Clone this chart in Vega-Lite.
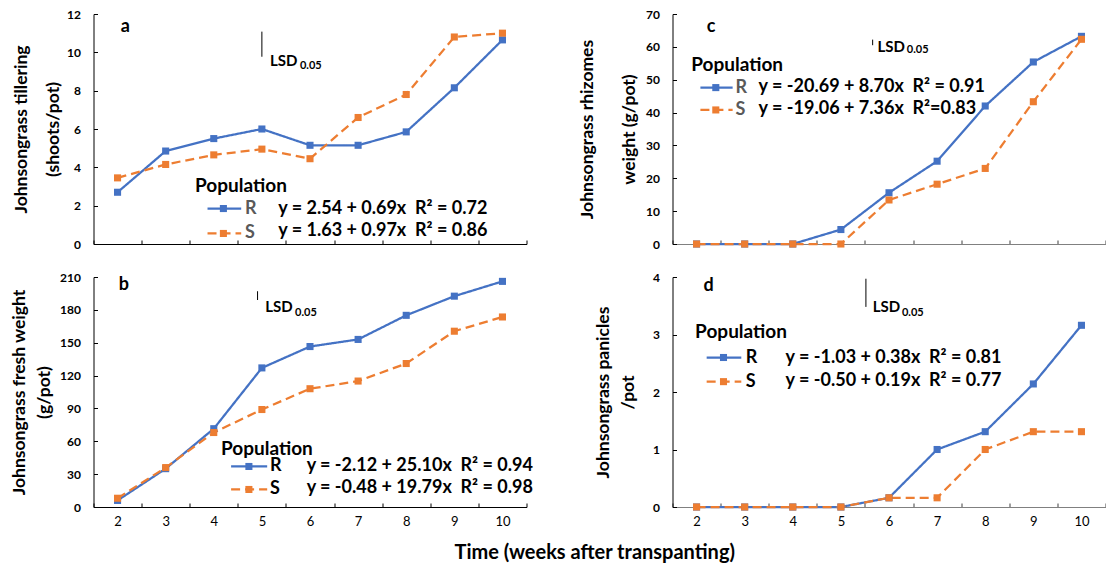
{
  "$schema": "https://vega.github.io/schema/vega-lite/v6.json",
  "background": "white",
  "padding": {"left": 10.5, "top": 8, "right": 2, "bottom": 5},
  "bounds": "flush",
  "columns": 2,
  "spacing": {"row": 33, "column": 146},
  "title": {"text": "Time (weeks after transpanting)", "orient": "bottom", "anchor": "start", "frame": "group", "dx": 361, "font": "Lato", "fontSize": 20, "fontWeight": "bold", "color": "#000", "offset": 15},
  "resolve": {"scale": {"x": "independent", "y": "independent"}},
  "datasets": {
    "a": [
      {"week": 2, "value": 2.7, "pop": "R"}, {"week": 3, "value": 4.85, "pop": "R"}, {"week": 4, "value": 5.5, "pop": "R"}, {"week": 5, "value": 6.0, "pop": "R"}, {"week": 6, "value": 5.15, "pop": "R"}, {"week": 7, "value": 5.15, "pop": "R"}, {"week": 8, "value": 5.85, "pop": "R"}, {"week": 9, "value": 8.15, "pop": "R"}, {"week": 10, "value": 10.65, "pop": "R"},
      {"week": 2, "value": 3.45, "pop": "S"}, {"week": 3, "value": 4.15, "pop": "S"}, {"week": 4, "value": 4.65, "pop": "S"}, {"week": 5, "value": 4.95, "pop": "S"}, {"week": 6, "value": 4.45, "pop": "S"}, {"week": 7, "value": 6.6, "pop": "S"}, {"week": 8, "value": 7.8, "pop": "S"}, {"week": 9, "value": 10.8, "pop": "S"}, {"week": 10, "value": 11.0, "pop": "S"}
    ],
    "b": [
      {"week": 2, "value": 6, "pop": "R"}, {"week": 3, "value": 35, "pop": "R"}, {"week": 4, "value": 71.5, "pop": "R"}, {"week": 5, "value": 127, "pop": "R"}, {"week": 6, "value": 146.5, "pop": "R"}, {"week": 7, "value": 153, "pop": "R"}, {"week": 8, "value": 175, "pop": "R"}, {"week": 9, "value": 192.5, "pop": "R"}, {"week": 10, "value": 206, "pop": "R"},
      {"week": 2, "value": 8, "pop": "S"}, {"week": 3, "value": 36, "pop": "S"}, {"week": 4, "value": 68, "pop": "S"}, {"week": 5, "value": 89, "pop": "S"}, {"week": 6, "value": 108, "pop": "S"}, {"week": 7, "value": 115, "pop": "S"}, {"week": 8, "value": 131, "pop": "S"}, {"week": 9, "value": 160.5, "pop": "S"}, {"week": 10, "value": 173.5, "pop": "S"}
    ],
    "c": [
      {"week": 2, "value": 0, "pop": "R"}, {"week": 3, "value": 0, "pop": "R"}, {"week": 4, "value": 0, "pop": "R"}, {"week": 5, "value": 4.4, "pop": "R"}, {"week": 6, "value": 15.6, "pop": "R"}, {"week": 7, "value": 25.2, "pop": "R"}, {"week": 8, "value": 42, "pop": "R"}, {"week": 9, "value": 55.4, "pop": "R"}, {"week": 10, "value": 63.2, "pop": "R"},
      {"week": 2, "value": 0, "pop": "S"}, {"week": 3, "value": 0, "pop": "S"}, {"week": 4, "value": 0, "pop": "S"}, {"week": 5, "value": 0, "pop": "S"}, {"week": 6, "value": 13.4, "pop": "S"}, {"week": 7, "value": 18.2, "pop": "S"}, {"week": 8, "value": 23, "pop": "S"}, {"week": 9, "value": 43.3, "pop": "S"}, {"week": 10, "value": 62.3, "pop": "S"}
    ],
    "d": [
      {"week": 2, "value": 0, "pop": "R"}, {"week": 3, "value": 0, "pop": "R"}, {"week": 4, "value": 0, "pop": "R"}, {"week": 5, "value": 0, "pop": "R"}, {"week": 6, "value": 0.16, "pop": "R"}, {"week": 7, "value": 1.0, "pop": "R"}, {"week": 8, "value": 1.31, "pop": "R"}, {"week": 9, "value": 2.14, "pop": "R"}, {"week": 10, "value": 3.16, "pop": "R"},
      {"week": 2, "value": 0, "pop": "S"}, {"week": 3, "value": 0, "pop": "S"}, {"week": 4, "value": 0, "pop": "S"}, {"week": 5, "value": 0, "pop": "S"}, {"week": 6, "value": 0.16, "pop": "S"}, {"week": 7, "value": 0.16, "pop": "S"}, {"week": 8, "value": 1.0, "pop": "S"}, {"week": 9, "value": 1.31, "pop": "S"}, {"week": 10, "value": 1.31, "pop": "S"}
    ],
    "a_leg": [
      {"pop": "R", "x1": 3.87, "x2": 4.57, "xm": 4.2, "xl": 4.65, "y": 1.85},
      {"pop": "S", "x1": 3.87, "x2": 4.57, "xm": 4.2, "xl": 4.65, "y": 0.55}
    ],
    "b_leg": [
      {"pop": "R", "x1": 4.36, "x2": 5.11, "xm": 4.73, "xl": 5.17, "y": 37},
      {"pop": "S", "x1": 4.36, "x2": 5.11, "xm": 4.73, "xl": 5.17, "y": 16}
    ],
    "c_leg": [
      {"pop": "R", "x1": 2.08, "x2": 2.75, "xm": 2.4, "xl": 2.81, "y": 47.6},
      {"pop": "S", "x1": 2.08, "x2": 2.75, "xm": 2.4, "xl": 2.81, "y": 40.8}
    ],
    "d_leg": [
      {"pop": "R", "x1": 2.21, "x2": 2.93, "xm": 2.56, "xl": 3.02, "y": 2.6},
      {"pop": "S", "x1": 2.21, "x2": 2.93, "xm": 2.56, "xl": 3.02, "y": 2.18}
    ],
    "a_txt": [
      {"kind": "letter", "x": 2.16, "y": 11.34, "text": "a"},
      {"kind": "lsd", "x": 5.17, "y": 9.55, "text": "LSD"},
      {"kind": "sub", "x": 5.79, "y": 9.3, "text": "0.05"},
      {"kind": "pop", "x": 3.61, "y": 3.03, "text": "Population"},
      {"kind": "eq", "x": 5.34, "y": 1.85, "text": "y = 2.54 + 0.69x \u00a0R² = 0.72"},
      {"kind": "eq", "x": 5.34, "y": 0.7, "text": "y = 1.63 + 0.97x \u00a0R² = 0.86"}
    ],
    "b_txt": [
      {"kind": "letter", "x": 2.13, "y": 202.7, "text": "b"},
      {"kind": "lsd", "x": 5.07, "y": 182.3, "text": "LSD"},
      {"kind": "sub", "x": 5.69, "y": 177.4, "text": "0.05"},
      {"kind": "pop", "x": 4.15, "y": 53, "text": "Population"},
      {"kind": "eq", "x": 5.93, "y": 37, "text": "y = -2.12 + 25.10x \u00a0R² = 0.94"},
      {"kind": "eq", "x": 5.93, "y": 17, "text": "y = -0.48 + 19.79x \u00a0R² = 0.98"}
    ],
    "c_txt": [
      {"kind": "letter", "x": 2.3, "y": 66.0, "text": "c"},
      {"kind": "lsd", "x": 5.76, "y": 60.1, "text": "LSD"},
      {"kind": "sub", "x": 6.37, "y": 59.1, "text": "0.05"},
      {"kind": "pop", "x": 1.89, "y": 54.5, "text": "Population"},
      {"kind": "eq", "x": 3.29, "y": 47.9, "text": "y = -20.69 + 8.70x \u00a0R² = 0.91"},
      {"kind": "eq", "x": 3.29, "y": 41.2, "text": "y = -19.06 + 7.36x \u00a0R²=0.83"}
    ],
    "d_txt": [
      {"kind": "letter", "x": 2.25, "y": 3.84, "text": "d"},
      {"kind": "lsd", "x": 5.66, "y": 3.47, "text": "LSD"},
      {"kind": "sub", "x": 6.27, "y": 3.37, "text": "0.05"},
      {"kind": "pop", "x": 1.97, "y": 3.05, "text": "Population"},
      {"kind": "eq", "x": 3.85, "y": 2.6, "text": "y = -1.03 + 0.38x \u00a0R² = 0.81"},
      {"kind": "eq", "x": 3.85, "y": 2.2, "text": "y = -0.50 + 0.19x \u00a0R² = 0.77"}
    ],
    "a_lsd": [{"x": 5.0, "y1": 11.08, "y2": 9.77}],
    "b_lsd": [{"x": 4.91, "y1": 197, "y2": 189}],
    "c_lsd": [{"x": 5.66, "y1": 62.2, "y2": 60.5}],
    "d_lsd": [{"x": 5.52, "y1": 3.97, "y2": 3.48}]
  },
  "config": {
    "view": {"stroke": null},
    "font": "Lato",
    "axis": {"grid": false, "labelFont": "Lato", "titleFont": "Lato", "labelColor": "#000", "titleColor": "#000", "domainColor": "#000", "tickColor": "#000", "tickSize": -4, "domainWidth": 1, "tickWidth": 1, "labelOverlap": false, "tickCount": 12},
    "axisX": {"labelFontSize": 13, "labelFontWeight": "normal", "labelPadding": 12},
    "axisY": {"labelFontSize": 12, "labelFontWeight": "bold", "labelPadding": 17, "titleFontSize": 17.5, "titleFontWeight": "bold", "format": "d"},
    "text": {"font": "Lato", "fontWeight": "bold", "color": "#000", "align": "left", "baseline": "middle"}
  },
  "concat": [
    {
      "width": 433, "height": 230,
      "layer": [
        {"data": {"name": "a"}, "mark": {"type": "line", "strokeWidth": 2.25},
         "encoding": {
           "x": {"field": "week", "type": "quantitative", "scale": {"domain": [1.5, 10.5], "nice": false, "zero": false},
                 "axis": {"values": [1.5, 2.5, 3.5, 4.5, 5.5, 6.5, 7.5, 8.5, 9.5, 10.5], "tickCount": 12, "labels": false, "title": null}},
           "y": {"field": "value", "type": "quantitative", "scale": {"domain": [0, 12], "nice": false},
                 "axis": {"values": [0, 2, 4, 6, 8, 10, 12], "tickCount": 12, "labelOverlap": false, "title": ["Johnsongrass tillering", "(shoots/pot)"], "titleLineHeight": 32, "titlePadding": 4}},
           "color": {"field": "pop", "type": "nominal", "scale": {"domain": ["R", "S"], "range": ["#4472C4", "#ED7D31"]}, "legend": null},
           "strokeDash": {"field": "pop", "type": "nominal", "scale": {"domain": ["R", "S"], "range": [[1, 0], [9, 5]]}, "legend": null}
         }},
        {"data": {"name": "a"}, "mark": {"type": "point", "shape": "square", "filled": true, "size": 50, "opacity": 1},
         "encoding": {"x": {"field": "week", "type": "quantitative"}, "y": {"field": "value", "type": "quantitative"}, "color": {"field": "pop", "type": "nominal", "legend": null}}},
        {"data": {"name": "a_leg"}, "mark": {"type": "rule", "strokeWidth": 2.25},
         "encoding": {"x": {"field": "x1", "type": "quantitative"}, "x2": {"field": "x2"}, "y": {"field": "y", "type": "quantitative"}, "color": {"field": "pop", "type": "nominal", "legend": null}, "strokeDash": {"field": "pop", "type": "nominal", "legend": null}}},
        {"data": {"name": "a_leg"}, "mark": {"type": "point", "shape": "square", "filled": true, "size": 50, "opacity": 1},
         "encoding": {"x": {"field": "xm", "type": "quantitative"}, "y": {"field": "y", "type": "quantitative"}, "color": {"field": "pop", "type": "nominal", "legend": null}}},
        {"data": {"name": "a_leg"}, "mark": {"type": "text", "fontSize": 18, "color": "#595959"},
         "encoding": {"x": {"field": "xl", "type": "quantitative"}, "y": {"field": "y", "type": "quantitative"}, "text": {"field": "pop"}}},
        {"data": {"name": "a_txt"}, "transform": [{"filter": "datum.kind == 'letter'"}], "mark": {"type": "text", "fontSize": 18, "align": "center"},
         "encoding": {"x": {"field": "x", "type": "quantitative"}, "y": {"field": "y", "type": "quantitative"}, "text": {"field": "text"}}},
        {"data": {"name": "a_txt"}, "transform": [{"filter": "datum.kind == 'lsd'"}], "mark": {"type": "text", "fontSize": 15},
         "encoding": {"x": {"field": "x", "type": "quantitative"}, "y": {"field": "y", "type": "quantitative"}, "text": {"field": "text"}}},
        {"data": {"name": "a_txt"}, "transform": [{"filter": "datum.kind == 'sub'"}], "mark": {"type": "text", "fontSize": 11},
         "encoding": {"x": {"field": "x", "type": "quantitative"}, "y": {"field": "y", "type": "quantitative"}, "text": {"field": "text"}}},
        {"data": {"name": "a_txt"}, "transform": [{"filter": "datum.kind == 'pop'"}], "mark": {"type": "text", "fontSize": 19},
         "encoding": {"x": {"field": "x", "type": "quantitative"}, "y": {"field": "y", "type": "quantitative"}, "text": {"field": "text"}}},
        {"data": {"name": "a_txt"}, "transform": [{"filter": "datum.kind == 'eq'"}], "mark": {"type": "text", "fontSize": 18},
         "encoding": {"x": {"field": "x", "type": "quantitative"}, "y": {"field": "y", "type": "quantitative"}, "text": {"field": "text"}}},
        {"data": {"name": "a_lsd"}, "mark": {"type": "rule", "color": "#000", "strokeWidth": 1},
         "encoding": {"x": {"field": "x", "type": "quantitative"}, "y": {"field": "y1", "type": "quantitative"}, "y2": {"field": "y2"}}}
      ]
    },
    {
      "width": 433, "height": 230,
      "layer": [
        {"data": {"name": "c"}, "mark": {"type": "line", "strokeWidth": 2.25},
         "encoding": {
           "x": {"field": "week", "type": "quantitative", "scale": {"domain": [1.5, 10.5], "nice": false, "zero": false},
                 "axis": {"values": [1.5, 2.5, 3.5, 4.5, 5.5, 6.5, 7.5, 8.5, 9.5, 10.5], "tickCount": 12, "labels": false, "title": null, "domainColor": "#808080", "tickColor": "#404040"}},
           "y": {"field": "value", "type": "quantitative", "scale": {"domain": [0, 70], "nice": false},
                 "axis": {"values": [0, 10, 20, 30, 40, 50, 60, 70], "tickCount": 12, "labelOverlap": false, "title": ["Johnsongrass rhizomes", "weight (g/pot)"], "titleLineHeight": 42, "titlePadding": 7}},
           "color": {"field": "pop", "type": "nominal", "scale": {"domain": ["R", "S"], "range": ["#4472C4", "#ED7D31"]}, "legend": null},
           "strokeDash": {"field": "pop", "type": "nominal", "scale": {"domain": ["R", "S"], "range": [[1, 0], [9, 5]]}, "legend": null}
         }},
        {"data": {"name": "c"}, "mark": {"type": "point", "shape": "square", "filled": true, "size": 50, "opacity": 1},
         "encoding": {"x": {"field": "week", "type": "quantitative"}, "y": {"field": "value", "type": "quantitative"}, "color": {"field": "pop", "type": "nominal", "legend": null}}},
        {"data": {"name": "c_leg"}, "mark": {"type": "rule", "strokeWidth": 2.25},
         "encoding": {"x": {"field": "x1", "type": "quantitative"}, "x2": {"field": "x2"}, "y": {"field": "y", "type": "quantitative"}, "color": {"field": "pop", "type": "nominal", "legend": null}, "strokeDash": {"field": "pop", "type": "nominal", "legend": null}}},
        {"data": {"name": "c_leg"}, "mark": {"type": "point", "shape": "square", "filled": true, "size": 50, "opacity": 1},
         "encoding": {"x": {"field": "xm", "type": "quantitative"}, "y": {"field": "y", "type": "quantitative"}, "color": {"field": "pop", "type": "nominal", "legend": null}}},
        {"data": {"name": "c_leg"}, "mark": {"type": "text", "fontSize": 18, "color": "#595959"},
         "encoding": {"x": {"field": "xl", "type": "quantitative"}, "y": {"field": "y", "type": "quantitative"}, "text": {"field": "pop"}}},
        {"data": {"name": "c_txt"}, "transform": [{"filter": "datum.kind == 'letter'"}], "mark": {"type": "text", "fontSize": 18, "align": "center"},
         "encoding": {"x": {"field": "x", "type": "quantitative"}, "y": {"field": "y", "type": "quantitative"}, "text": {"field": "text"}}},
        {"data": {"name": "c_txt"}, "transform": [{"filter": "datum.kind == 'lsd'"}], "mark": {"type": "text", "fontSize": 15},
         "encoding": {"x": {"field": "x", "type": "quantitative"}, "y": {"field": "y", "type": "quantitative"}, "text": {"field": "text"}}},
        {"data": {"name": "c_txt"}, "transform": [{"filter": "datum.kind == 'sub'"}], "mark": {"type": "text", "fontSize": 11},
         "encoding": {"x": {"field": "x", "type": "quantitative"}, "y": {"field": "y", "type": "quantitative"}, "text": {"field": "text"}}},
        {"data": {"name": "c_txt"}, "transform": [{"filter": "datum.kind == 'pop'"}], "mark": {"type": "text", "fontSize": 19},
         "encoding": {"x": {"field": "x", "type": "quantitative"}, "y": {"field": "y", "type": "quantitative"}, "text": {"field": "text"}}},
        {"data": {"name": "c_txt"}, "transform": [{"filter": "datum.kind == 'eq'"}], "mark": {"type": "text", "fontSize": 18},
         "encoding": {"x": {"field": "x", "type": "quantitative"}, "y": {"field": "y", "type": "quantitative"}, "text": {"field": "text"}}},
        {"data": {"name": "c_lsd"}, "mark": {"type": "rule", "color": "#000", "strokeWidth": 1},
         "encoding": {"x": {"field": "x", "type": "quantitative"}, "y": {"field": "y1", "type": "quantitative"}, "y2": {"field": "y2"}}}
      ]
    },
    {
      "width": 433, "height": 230,
      "layer": [
        {"data": {"name": "b"}, "mark": {"type": "line", "strokeWidth": 2.25},
         "encoding": {
           "x": {"field": "week", "type": "quantitative", "scale": {"domain": [1.5, 10.5], "nice": false, "zero": false},
                 "axis": {"values": [1.5, 2.5, 3.5, 4.5, 5.5, 6.5, 7.5, 8.5, 9.5, 10.5], "tickCount": 12, "labelExpr": "datum.value < 10 ? format(datum.value + 0.5, 'd') : ''", "labelOffset": 24.06, "labelFlush": false, "title": null}},
           "y": {"field": "value", "type": "quantitative", "scale": {"domain": [0, 210], "nice": false},
                 "axis": {"values": [0, 30, 60, 90, 120, 150, 180, 210], "tickCount": 12, "labelOverlap": false, "title": ["Johnsongrass fresh weight", "(g/pot)"], "titleLineHeight": 25, "titlePadding": 6}},
           "color": {"field": "pop", "type": "nominal", "scale": {"domain": ["R", "S"], "range": ["#4472C4", "#ED7D31"]}, "legend": null},
           "strokeDash": {"field": "pop", "type": "nominal", "scale": {"domain": ["R", "S"], "range": [[1, 0], [9, 5]]}, "legend": null}
         }},
        {"data": {"name": "b"}, "mark": {"type": "point", "shape": "square", "filled": true, "size": 50, "opacity": 1},
         "encoding": {"x": {"field": "week", "type": "quantitative"}, "y": {"field": "value", "type": "quantitative"}, "color": {"field": "pop", "type": "nominal", "legend": null}}},
        {"data": {"name": "b_leg"}, "mark": {"type": "rule", "strokeWidth": 2.25},
         "encoding": {"x": {"field": "x1", "type": "quantitative"}, "x2": {"field": "x2"}, "y": {"field": "y", "type": "quantitative"}, "color": {"field": "pop", "type": "nominal", "legend": null}, "strokeDash": {"field": "pop", "type": "nominal", "legend": null}}},
        {"data": {"name": "b_leg"}, "mark": {"type": "point", "shape": "square", "filled": true, "size": 50, "opacity": 1},
         "encoding": {"x": {"field": "xm", "type": "quantitative"}, "y": {"field": "y", "type": "quantitative"}, "color": {"field": "pop", "type": "nominal", "legend": null}}},
        {"data": {"name": "b_leg"}, "mark": {"type": "text", "fontSize": 18, "color": "#000"},
         "encoding": {"x": {"field": "xl", "type": "quantitative"}, "y": {"field": "y", "type": "quantitative"}, "text": {"field": "pop"}}},
        {"data": {"name": "b_txt"}, "transform": [{"filter": "datum.kind == 'letter'"}], "mark": {"type": "text", "fontSize": 18, "align": "center"},
         "encoding": {"x": {"field": "x", "type": "quantitative"}, "y": {"field": "y", "type": "quantitative"}, "text": {"field": "text"}}},
        {"data": {"name": "b_txt"}, "transform": [{"filter": "datum.kind == 'lsd'"}], "mark": {"type": "text", "fontSize": 15},
         "encoding": {"x": {"field": "x", "type": "quantitative"}, "y": {"field": "y", "type": "quantitative"}, "text": {"field": "text"}}},
        {"data": {"name": "b_txt"}, "transform": [{"filter": "datum.kind == 'sub'"}], "mark": {"type": "text", "fontSize": 11},
         "encoding": {"x": {"field": "x", "type": "quantitative"}, "y": {"field": "y", "type": "quantitative"}, "text": {"field": "text"}}},
        {"data": {"name": "b_txt"}, "transform": [{"filter": "datum.kind == 'pop'"}], "mark": {"type": "text", "fontSize": 19},
         "encoding": {"x": {"field": "x", "type": "quantitative"}, "y": {"field": "y", "type": "quantitative"}, "text": {"field": "text"}}},
        {"data": {"name": "b_txt"}, "transform": [{"filter": "datum.kind == 'eq'"}], "mark": {"type": "text", "fontSize": 18},
         "encoding": {"x": {"field": "x", "type": "quantitative"}, "y": {"field": "y", "type": "quantitative"}, "text": {"field": "text"}}},
        {"data": {"name": "b_lsd"}, "mark": {"type": "rule", "color": "#000", "strokeWidth": 1},
         "encoding": {"x": {"field": "x", "type": "quantitative"}, "y": {"field": "y1", "type": "quantitative"}, "y2": {"field": "y2"}}}
      ]
    },
    {
      "width": 433, "height": 230,
      "layer": [
        {"data": {"name": "d"}, "mark": {"type": "line", "strokeWidth": 2.25},
         "encoding": {
           "x": {"field": "week", "type": "quantitative", "scale": {"domain": [1.5, 10.5], "nice": false, "zero": false},
                 "axis": {"values": [1.5, 2.5, 3.5, 4.5, 5.5, 6.5, 7.5, 8.5, 9.5, 10.5], "tickCount": 12, "labelExpr": "datum.value < 10 ? format(datum.value + 0.5, 'd') : ''", "labelOffset": 24.06, "labelFlush": false, "title": null, "domainColor": "#808080", "tickColor": "#404040"}},
           "y": {"field": "value", "type": "quantitative", "scale": {"domain": [0, 4], "nice": false},
                 "axis": {"values": [0, 1, 2, 3, 4], "tickCount": 12, "labelOverlap": false, "title": ["Johnsongrass panicles", "/pot"], "titleLineHeight": 25, "titlePadding": 15}},
           "color": {"field": "pop", "type": "nominal", "scale": {"domain": ["R", "S"], "range": ["#4472C4", "#ED7D31"]}, "legend": null},
           "strokeDash": {"field": "pop", "type": "nominal", "scale": {"domain": ["R", "S"], "range": [[1, 0], [9, 5]]}, "legend": null}
         }},
        {"data": {"name": "d"}, "mark": {"type": "point", "shape": "square", "filled": true, "size": 50, "opacity": 1},
         "encoding": {"x": {"field": "week", "type": "quantitative"}, "y": {"field": "value", "type": "quantitative"}, "color": {"field": "pop", "type": "nominal", "legend": null}}},
        {"data": {"name": "d_leg"}, "mark": {"type": "rule", "strokeWidth": 2.25},
         "encoding": {"x": {"field": "x1", "type": "quantitative"}, "x2": {"field": "x2"}, "y": {"field": "y", "type": "quantitative"}, "color": {"field": "pop", "type": "nominal", "legend": null}, "strokeDash": {"field": "pop", "type": "nominal", "legend": null}}},
        {"data": {"name": "d_leg"}, "mark": {"type": "point", "shape": "square", "filled": true, "size": 50, "opacity": 1},
         "encoding": {"x": {"field": "xm", "type": "quantitative"}, "y": {"field": "y", "type": "quantitative"}, "color": {"field": "pop", "type": "nominal", "legend": null}}},
        {"data": {"name": "d_leg"}, "mark": {"type": "text", "fontSize": 18, "color": "#000"},
         "encoding": {"x": {"field": "xl", "type": "quantitative"}, "y": {"field": "y", "type": "quantitative"}, "text": {"field": "pop"}}},
        {"data": {"name": "d_txt"}, "transform": [{"filter": "datum.kind == 'letter'"}], "mark": {"type": "text", "fontSize": 18, "align": "center"},
         "encoding": {"x": {"field": "x", "type": "quantitative"}, "y": {"field": "y", "type": "quantitative"}, "text": {"field": "text"}}},
        {"data": {"name": "d_txt"}, "transform": [{"filter": "datum.kind == 'lsd'"}], "mark": {"type": "text", "fontSize": 15},
         "encoding": {"x": {"field": "x", "type": "quantitative"}, "y": {"field": "y", "type": "quantitative"}, "text": {"field": "text"}}},
        {"data": {"name": "d_txt"}, "transform": [{"filter": "datum.kind == 'sub'"}], "mark": {"type": "text", "fontSize": 11},
         "encoding": {"x": {"field": "x", "type": "quantitative"}, "y": {"field": "y", "type": "quantitative"}, "text": {"field": "text"}}},
        {"data": {"name": "d_txt"}, "transform": [{"filter": "datum.kind == 'pop'"}], "mark": {"type": "text", "fontSize": 19},
         "encoding": {"x": {"field": "x", "type": "quantitative"}, "y": {"field": "y", "type": "quantitative"}, "text": {"field": "text"}}},
        {"data": {"name": "d_txt"}, "transform": [{"filter": "datum.kind == 'eq'"}], "mark": {"type": "text", "fontSize": 18},
         "encoding": {"x": {"field": "x", "type": "quantitative"}, "y": {"field": "y", "type": "quantitative"}, "text": {"field": "text"}}},
        {"data": {"name": "d_lsd"}, "mark": {"type": "rule", "color": "#000", "strokeWidth": 1},
         "encoding": {"x": {"field": "x", "type": "quantitative"}, "y": {"field": "y1", "type": "quantitative"}, "y2": {"field": "y2"}}}
      ]
    }
  ]
}
